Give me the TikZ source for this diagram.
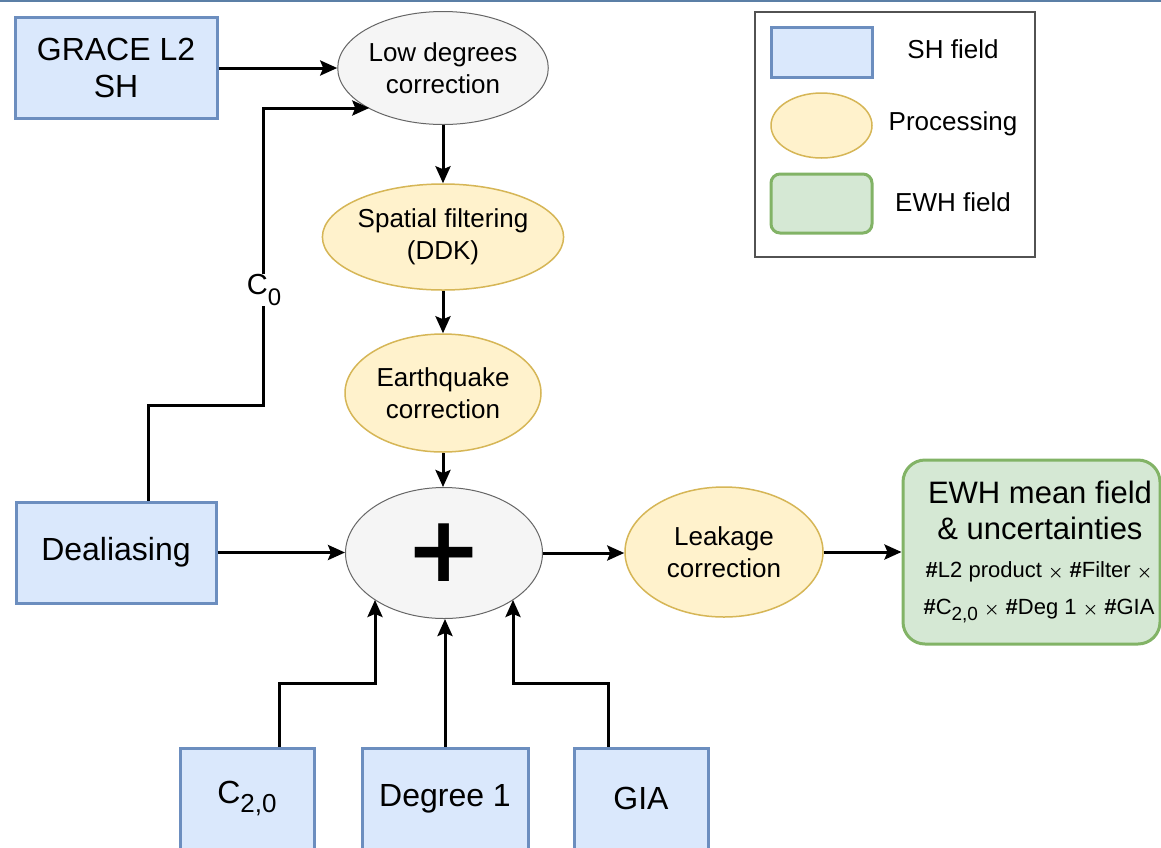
\documentclass[tikz,border=0pt]{standalone}
\usepackage{fontspec}
\setmainfont{Liberation Sans}
\newfontfamily\plusfont{DejaVu Sans}
\usetikzlibrary{shapes.geometric,arrows.meta}
\definecolor{shfill}{HTML}{DAE8FC}
\definecolor{shdraw}{HTML}{6C8EBF}
\definecolor{prfill}{HTML}{FFF2CC}
\definecolor{prdraw}{HTML}{D6B656}
\definecolor{ewfill}{HTML}{D5E8D4}
\definecolor{ewdraw}{HTML}{82B366}
\definecolor{gyfill}{HTML}{F5F5F5}
\definecolor{gydraw}{HTML}{666666}
\definecolor{topline}{HTML}{5B7FA6}
\newcommand\mysub[1]{\raisebox{-0.3em}{\fontsize{26}{26}\selectfont #1}}
\newcommand\smx{{\fontsize{17}{17}\selectfont$\boldsymbol{\times}$}}
\usepackage{amsmath}
\tikzset{
  shbox/.style={draw=shdraw, fill=shfill, line width=3pt, rectangle, align=center, inner sep=0pt, font=\fontsize{32}{37}\selectfont},
  prell/.style={draw=prdraw, fill=prfill, line width=1.5pt, ellipse, align=center, inner sep=0pt, font=\fontsize{26}{32}\selectfont},
  gyell/.style={draw=gydraw, fill=gyfill, line width=1pt, ellipse, align=center, inner sep=0pt, font=\fontsize{26}{32}\selectfont},
  ewbox/.style={draw=ewdraw, fill=ewfill, line width=3pt, rectangle, rounded corners=22pt, align=center, inner sep=0pt},
  arr/.style={draw=black, line width=3pt, -{Stealth[length=17pt,width=15pt,inset=3pt]}},
  legtext/.style={font=\fontsize{26}{30}\selectfont, inner sep=0pt},
}
\begin{document}
\begin{tikzpicture}[x=1pt,y=-1pt]
\useasboundingbox (0,0) rectangle (1161,847);
\fill[white] (0,0) rectangle (1161,847);
\draw[topline, line width=2pt] (0,0.5) -- (1161,0.5);

% nodes
\node[shbox, minimum width=202pt, minimum height=101pt] (grace) at (116,67.5) {GRACE L2\\SH};
\node[gyell, minimum width=198pt, minimum height=113pt] (low) at (443,68) {Low degrees\\correction};
\node[prell, minimum width=234pt, minimum height=106pt] (spat) at (443,237) {Spatial filtering\\(DDK)};
\node[prell, minimum width=196pt, minimum height=118pt] (quake) at (443,393) {Earthquake\\correction};
\node[gyell, minimum width=197pt, minimum height=131pt] (plus) at (444,553) {};
\node[font=\plusfont\bfseries\fontsize{92}{92}\selectfont, inner sep=0pt] (plussign) at (444,553) {+};
\node[prell, minimum width=198pt, minimum height=130pt] (leak) at (724,552) {Leakage\\correction};
\node[ewbox, minimum width=257pt, minimum height=184pt] (ewh) at (1031.5,552) {};
\node[font=\fontsize{31}{36}\selectfont, align=center, inner sep=0pt] (ewht) at (1040,510) {EWH mean field\\\& uncertainties};
\node[font=\fontsize{22}{37}\selectfont, align=center, inner sep=0pt] (ewhs) at (1039,592)
  {\textbf{\#}L2 product \smx{} \textbf{\#}Filter \smx\\
   \textbf{\#}C\raisebox{-0.25em}{\fontsize{19}{19}\selectfont 2,0} \smx{} \textbf{\#}Deg 1 \smx{} \textbf{\#}GIA};
\node[shbox, minimum width=200pt, minimum height=101pt] (deal) at (116,552.5) {Dealiasing};
\node[shbox, minimum width=134pt, minimum height=101pt] (c20) at (247,798.5) {C\mysub{2,0}};
\node[shbox, minimum width=166pt, minimum height=101pt] (deg1) at (445,798.5) {Degree 1};
\node[shbox, minimum width=134pt, minimum height=101pt] (gia) at (641,798.5) {GIA};

% legend
\node[draw=gydraw!80!black, line width=1.5pt, rectangle, minimum width=280pt, minimum height=245pt, inner sep=0pt] (legend) at (895,134.5) {};
\node[draw=shdraw, fill=shfill, line width=3pt, minimum width=101pt, minimum height=50pt, inner sep=0pt] (lsh) at (821.5,52) {};
\node[draw=prdraw, fill=prfill, line width=1.5pt, ellipse, minimum width=101pt, minimum height=65pt, inner sep=0pt] (lpr) at (821.5,125.5) {};
\node[draw=ewdraw, fill=ewfill, line width=3pt, rounded corners=9pt, minimum width=101pt, minimum height=59pt, inner sep=0pt] (lew) at (821.5,203.5) {};
\node[legtext] (lsht) at (953,49) {SH field};
\node[legtext] (lprt) at (953,124) {Processing};
\node[legtext] (lewt) at (953,202) {EWH field};

% connectors
\draw[arr] (grace.east |- low.center) -- (low.west);
\coordinate (c0a) at (148,405);
\coordinate (c0b) at (263,405);
\coordinate (c0c) at (263,108);
\draw[arr] (deal.north -| c0a) -- (c0a) -- (c0b) -- (c0c) -- (c0c -| low.209.7);
\node[fill=white, inner sep=1pt, font=\fontsize{29}{29}\selectfont] (c0lab) at (264,290) {C\raisebox{-0.35em}{\fontsize{24}{24}\selectfont 0}};
\draw[arr] (low.south) -- (spat.north);
\draw[arr] (spat.south) -- (quake.north);
\draw[arr] (quake.south) -- (quake.south |- plus.north);
\draw[arr] (deal.east) -- (deal.east -| plus.west);
\coordinate (c2a) at (279,683);
\coordinate (c2b) at (375,683);
\draw[arr] (c20.north -| c2a) -- (c2a) -- (c2b) -- (c2b |- plus.214);
\draw[arr] (deg1.north) -- (deg1.north |- plus.south);
\coordinate (gia1) at (608,683);
\coordinate (gia2) at (513,683);
\draw[arr] (gia.north -| gia1) -- (gia1) -- (gia2) -- (gia2 |- plus.326);
\draw[arr] (plus.east) -- (plus.east -| leak.west);
\draw[arr] (leak.east) -- (leak.east -| ewh.west);
\end{tikzpicture}
\end{document}
